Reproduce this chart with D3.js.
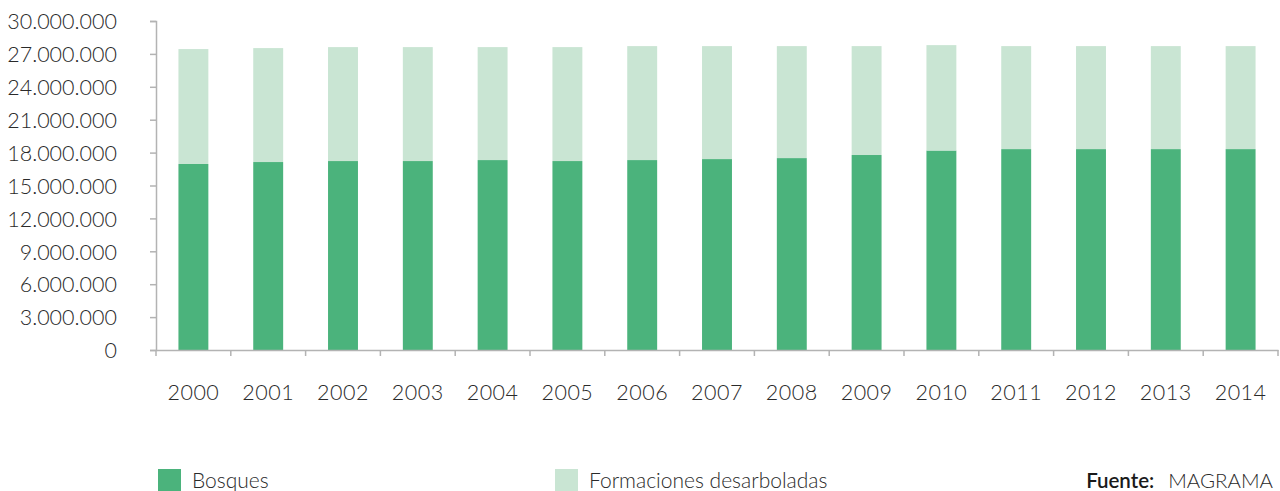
<!DOCTYPE html>
<html>
<head>
<meta charset="utf-8">
<script src="https://cdn.jsdelivr.net/npm/d3@7"></script>
<style>
  body { margin: 0; background: #fff; }
  svg text { font-family: Lato, "Open Sans", sans-serif; font-weight: 300; fill: #2a2a2a; }
</style>
</head>
<body>
<div id="chart"></div>
<script>
const years = ["2000","2001","2002","2003","2004","2005","2006","2007","2008","2009","2010","2011","2012","2013","2014"];
// hectares
const bosques = [16960000,17140000,17230000,17230000,17320000,17230000,17320000,17410000,17500000,17780000,18190000,18320000,18320000,18320000,18320000];
const desarboladas = [10480000,10390000,10390000,10390000,10300000,10390000,10390000,10300000,10210000,9930000,9610000,9390000,9390000,9390000,9390000];
const yTicks = [0,3000000,6000000,9000000,12000000,15000000,18000000,21000000,24000000,27000000,30000000];
const seriesNames = ["Bosques","Formaciones desarboladas"];
const colors = ["#4bb37c","#c9e5d3"];

let outerWidth = 1280, outerHeight = 491;
let margin = {top: 21, right: 2, bottom: 141, left: 156};
let width = outerWidth - margin.left - margin.right, height = outerHeight - margin.top - margin.bottom;

const svg0 = d3.select("#chart").append("svg")
    .attr("width", outerWidth)
    .attr("height", outerHeight);
const svg = svg0.append("g")
    .attr("transform", "translate(" + margin.left + "," + margin.top + ")");

const xScale = d3.scaleBand()
    .domain(years)
    .range([0, width])
    .paddingInner(0.6)
    .paddingOuter(0.3);

const yScale = d3.scaleLinear()
    .domain([0, 30000000])
    .range([height, 0]);

const locale = d3.formatLocale({decimal: ",", thousands: ".", grouping: [3], currency: ["", ""]});
const fmt = locale.format(",d");

const data = years.map((y, i) => ({year: y, b: bosques[i], f: desarboladas[i]}));
const stack = d3.stack().keys(["b","f"]);
const series = stack(data);

svg.selectAll(".layer")
    .data(series)
    .enter().append("g")
    .attr("class", "layer")
    .attr("fill", (d, i) => colors[i])
    .selectAll("rect")
    .data(d => d)
    .enter().append("rect")
    .attr("x", d => xScale(d.data.year))
    .attr("width", xScale.bandwidth())
    .attr("y", d => yScale(d[1]))
    .attr("height", d => yScale(d[0]) - yScale(d[1]));

// y axis
const yaxis = svg.append("g")
    .call(d3.axisLeft(yScale).tickValues(yTicks).tickFormat(fmt).tickSize(6).tickPadding(33));
yaxis.selectAll("text").style("font-size", "21.5px").attr("dy", "0.36em");

// x axis: labels under band centres, ticks on band edges
const xaxis = svg.append("g")
    .attr("transform", `translate(0, ${height})`)
    .call(d3.axisBottom(xScale).tickSize(0).tickPadding(35));
xaxis.selectAll("text").style("font-size", "21.5px").style("letter-spacing", "0.5px");
xaxis.selectAll(".tick")
    .append("line")
    .attr("x1", -xScale.step() / 2).attr("x2", -xScale.step() / 2)
    .attr("y1", 0).attr("y2", 6);
xaxis.append("line")
    .attr("x1", width).attr("x2", width)
    .attr("y1", 0).attr("y2", 6);

svg.selectAll(".domain, .tick line").attr("stroke", "#b3b3b3").attr("stroke-width", 1.5);
xaxis.selectAll("line").attr("stroke", "#b3b3b3").attr("stroke-width", 1.5);

// legend
const legend = svg0.append("g").attr("transform", "translate(158, 469)");
const legendX = [0, 397];
seriesNames.forEach((name, i) => {
    const g = legend.append("g").attr("transform", `translate(${legendX[i]}, 0)`);
    g.append("rect").attr("width", 23).attr("height", 23).attr("fill", colors[i]);
    g.append("text").attr("x", 34).attr("y", 19).style("font-size", "21px").text(name);
});

const source = svg0.append("text")
    .attr("x", 1273).attr("y", 488)
    .attr("text-anchor", "end")
    .style("font-size", "20.5px");
source.append("tspan").style("font-weight", 600).style("fill", "#1a1a1a").text("Fuente:");
source.append("tspan").attr("dx", 14).text("MAGRAMA");
</script>
</body>
</html>
